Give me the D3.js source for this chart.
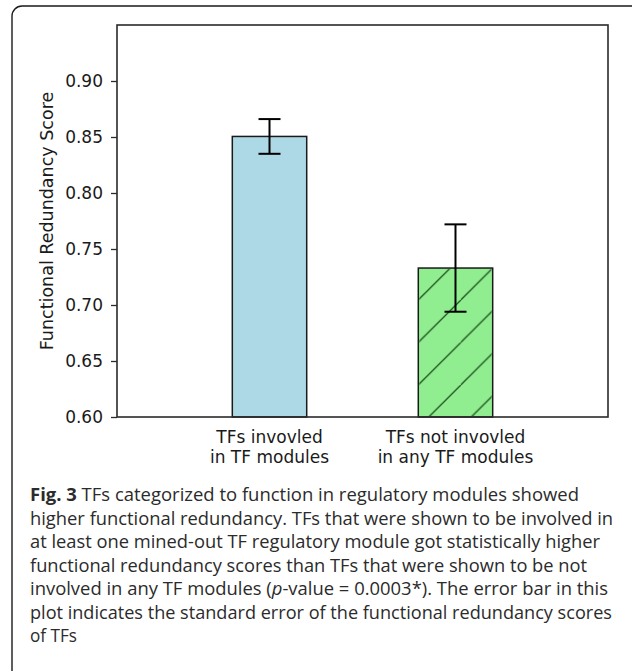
<!DOCTYPE html>
<html>
<head>
<meta charset="utf-8">
<script src="https://cdn.jsdelivr.net/npm/d3@7"></script>
<style>
  html, body { margin: 0; padding: 0; background: #fff; }
  svg { display: block; }
</style>
</head>
<body>
<svg id="chart" width="632" height="671"></svg>
<script>
// ---- data ----
const categories = ["TFs invovled\nin TF modules", "TFs not invovled\nin any TF modules"];
const values = [0.8505, 0.7330];
const errors = [0.0155, 0.0390];
const barColors = ["#add8e6", "#90ee90"];
const hatched = [false, true];
const yTicks = [0.60, 0.65, 0.70, 0.75, 0.80, 0.85, 0.90];
const yDomain = [0.60, 0.95];
const xDomain = [-0.82, 1.82];
const yLabel = "Functional Redundancy Score";
const captionLines = [
  [{t: "Fig. 3", b: true}, {t: " TFs categorized to function in regulatory modules showed"}],
  [{t: "higher functional redundancy. TFs that were shown to be involved in"}],
  [{t: "at least one mined-out TF regulatory module got statistically higher"}],
  [{t: "functional redundancy scores than TFs that were shown to be not"}],
  [{t: "involved in any TF modules ("}, {t: "p", i: true}, {t: "-value = 0.0003*). The error bar in this"}],
  [{t: "plot indicates the standard error of the functional redundancy scores"}],
  [{t: "of TFs"}]
];
const captionWidths = [549, 583, 570, 557, 578, 582, 47];

// ---- layout ----
const svg = d3.select("#chart");
const plot = {left: 117, right: 608, top: 25, bottom: 417};
const x = d3.scaleLinear().domain(xDomain).range([plot.left, plot.right]);
const y = d3.scaleLinear().domain(yDomain).range([plot.bottom, plot.top]);
const barW = 0.4;

// outer rounded frame
svg.append("rect")
  .attr("x", 12).attr("y", 6).attr("width", 700).attr("height", 800)
  .attr("rx", 10).attr("ry", 10)
  .attr("fill", "none").attr("stroke", "#1a1a1a").attr("stroke-width", 1.4);

// hatch pattern
const hatchSp = 42.5;
const defs = svg.append("defs");
const pat = defs.append("pattern")
  .attr("id", "hatch")
  .attr("patternUnits", "userSpaceOnUse")
  .attr("width", hatchSp).attr("height", hatchSp)
  .attr("patternTransform", `translate(${x(1 - barW / 2)},${y(yDomain[0]) + 10.5})`);
pat.append("path")
  .attr("d", `M0,${hatchSp} L${hatchSp},0 M${-hatchSp},${hatchSp} L0,0 M${hatchSp},${2*hatchSp} L${2*hatchSp},${hatchSp}`)
  .attr("stroke", "#1d4f1d").attr("stroke-width", 1.3).attr("fill", "none");

// bars
const idx = d3.range(categories.length);
svg.append("g").selectAll("rect.bar").data(idx).join("rect")
  .attr("class", "bar")
  .attr("x", i => x(i - barW / 2))
  .attr("width", i => x(i + barW / 2) - x(i - barW / 2))
  .attr("y", i => y(values[i]))
  .attr("height", i => y(yDomain[0]) - y(values[i]))
  .attr("fill", i => barColors[i])
  .attr("stroke", "#1a1a1a").attr("stroke-width", 1.5);

svg.append("g").selectAll("rect.hatch").data(idx.filter(i => hatched[i])).join("rect")
  .attr("x", i => x(i - barW / 2) + 1)
  .attr("width", i => x(i + barW / 2) - x(i - barW / 2) - 2)
  .attr("y", i => y(values[i]) + 1)
  .attr("height", i => y(yDomain[0]) - y(values[i]) - 1)
  .attr("fill", "url(#hatch)");

// error bars
const eg = svg.append("g").attr("stroke", "#000").attr("stroke-width", 2).attr("fill", "none");
const capHalf = 11;
idx.forEach(i => {
  const cx = x(i);
  const yt = y(values[i] + errors[i]), yb = y(values[i] - errors[i]);
  eg.append("line").attr("x1", cx).attr("x2", cx).attr("y1", yt).attr("y2", yb);
  eg.append("line").attr("x1", cx - capHalf).attr("x2", cx + capHalf).attr("y1", yt).attr("y2", yt);
  eg.append("line").attr("x1", cx - capHalf).attr("x2", cx + capHalf).attr("y1", yb).attr("y2", yb);
});

// axes frame
svg.append("rect")
  .attr("x", plot.left).attr("y", plot.top)
  .attr("width", plot.right - plot.left).attr("height", plot.bottom - plot.top)
  .attr("fill", "none").attr("stroke", "#2a2a2a").attr("stroke-width", 1.6);

// y axis
const yAxis = d3.axisLeft(y).tickValues(yTicks).tickFormat(d3.format(".2f")).tickSize(6).tickPadding(8);
const yg = svg.append("g").attr("transform", `translate(${plot.left},0)`).call(yAxis);
yg.select(".domain").remove();
yg.selectAll(".tick line").attr("stroke", "#2a2a2a").attr("stroke-width", 1.3);
yg.selectAll(".tick text")
  .attr("font-family", "DejaVu Sans").attr("font-size", 17).attr("fill", "#1a1a1a");

// y label
svg.append("text")
  .attr("transform", `translate(53,${(plot.top + plot.bottom) / 2}) rotate(-90)`)
  .attr("text-anchor", "middle")
  .attr("font-family", "DejaVu Sans").attr("font-size", 17.5).attr("fill", "#1a1a1a")
  .text(yLabel);

// x tick labels
const xg = svg.append("g");
idx.forEach(i => {
  const lines = categories[i].split("\n");
  const t = xg.append("text")
    .attr("text-anchor", "middle")
    .attr("font-family", "DejaVu Sans").attr("font-size", 17).attr("fill", "#1a1a1a");
  lines.forEach((ln, k) => {
    t.append("tspan").attr("x", x(i)).attr("y", plot.bottom + 26 + k * 20.4).text(ln);
  });
});

// caption
const cap = svg.append("g");
captionLines.forEach((parts, k) => {
  const t = cap.append("text")
    .attr("x", 30).attr("y", 501 + k * 23.5)
    .attr("font-family", "Open Sans").attr("font-size", 17.5).attr("fill", "#2b2b2b")
    .attr("textLength", captionWidths[k]).attr("lengthAdjust", "spacingAndGlyphs");
  parts.forEach(p => {
    const s = t.append("tspan").text(p.t);
    if (p.b) s.attr("font-weight", "bold");
    if (p.i) s.attr("font-style", "italic");
  });
});
</script>
</body>
</html>
